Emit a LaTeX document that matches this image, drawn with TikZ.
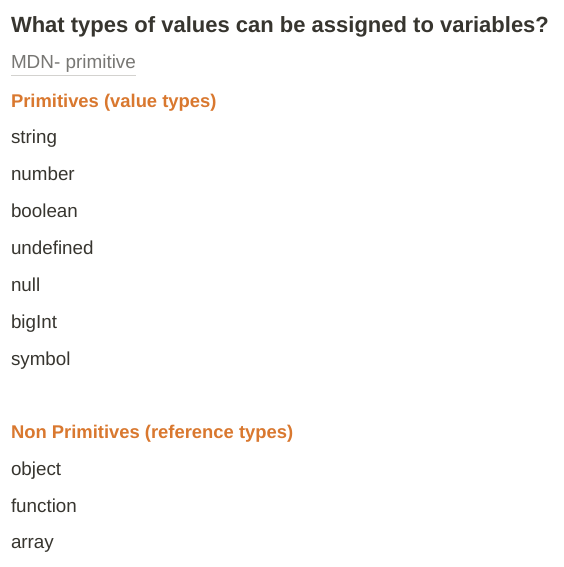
\documentclass[tikz,border=0pt]{standalone}
\usepackage{fontspec}
\setmainfont{Liberation Sans}
\definecolor{ink}{HTML}{37352F}
\definecolor{notionorange}{HTML}{D9782F}
\definecolor{linkgray}{HTML}{787774}
\definecolor{ulgray}{HTML}{D3D2CF}
\begin{document}
\begin{tikzpicture}[x=1pt,y=-1pt,
  txt/.style={anchor=base west, inner sep=0pt, outer sep=0pt},
  titlestyle/.style={txt, text=ink, font=\fontsize{22}{26}\selectfont\bfseries},
  linkstyle/.style={txt, text=linkgray, font=\fontsize{18.9}{22}\selectfont},
  headstyle/.style={txt, text=notionorange, font=\fontsize{18.4}{22}\selectfont\bfseries},
  itemstyle/.style={txt, text=ink, font=\fontsize{18.8}{22}\selectfont},
  ulstyle/.style={draw=ulgray, line width=0.8pt}]
\useasboundingbox[fill=white] (0,0) rectangle (563,567);
\node[titlestyle] (title) at (11,33) {What types of values can be assigned to variables?};
\node[linkstyle] (mdn) at (11,69) {MDN- primitive};
\draw[ulstyle] ([yshift=-6pt]mdn.base west) -- ([yshift=-6pt]mdn.base east);
\node[headstyle] (prim) at (11,107) {Primitives (value types)};
\node[itemstyle] (string) at (11,143) {string};
\node[itemstyle] (number) at (11,180.5) {number};
\node[itemstyle] (boolean) at (11,217) {boolean};
\node[itemstyle] (undefined) at (11,254) {undefined};
\node[itemstyle] (null) at (11,291) {null};
\node[itemstyle] (bigint) at (11,328) {bigInt};
\node[itemstyle] (symbol) at (11,365) {symbol};
\node[headstyle] (nonprim) at (11,438) {Non Primitives (reference types)};
\node[itemstyle] (object) at (11,475) {object};
\node[itemstyle] (function) at (11,512) {function};
\node[itemstyle] (array) at (11,548) {array};
\end{tikzpicture}
\end{document}
